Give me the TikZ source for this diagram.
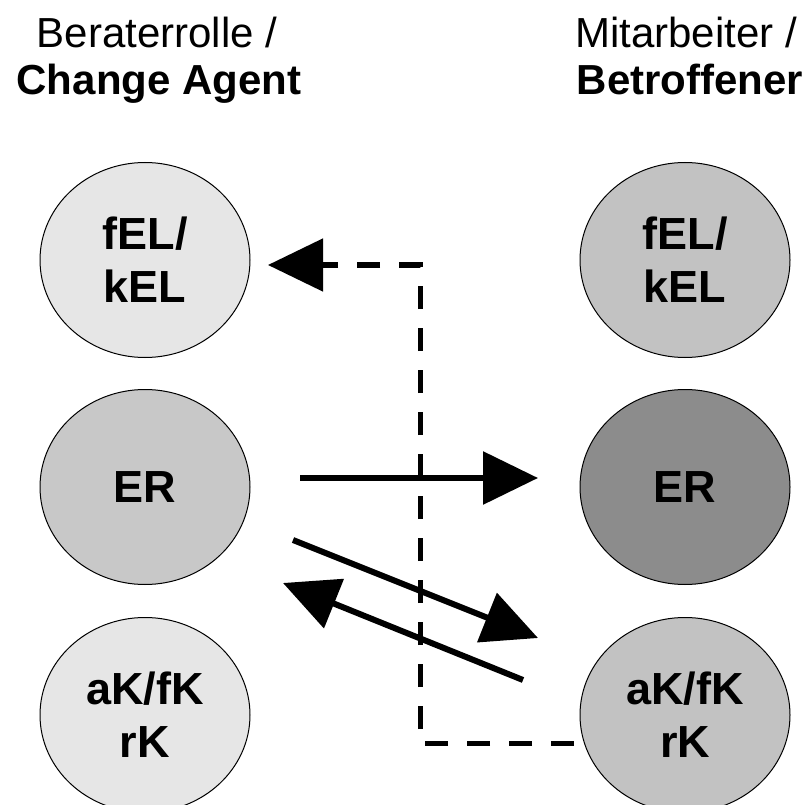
\documentclass[tikz,border=0pt]{standalone}
\usepackage{fontspec}
\setmainfont{Liberation Sans}
\usetikzlibrary{shapes.geometric,arrows.meta}
\definecolor{lightg}{HTML}{E6E6E6}
\definecolor{midg}{HTML}{C8C8C8}
\definecolor{rightg}{HTML}{C2C2C2}
\definecolor{darkg}{HTML}{8C8C8C}
\begin{document}
\begin{tikzpicture}[x=1pt,y=-1pt,
  role/.style={ellipse, draw=black, line width=1pt, minimum width=210pt, minimum height=195pt, inner sep=0pt, align=center, font=\fontsize{45}{53}\selectfont\bfseries},
  title/.style={anchor=base, font=\fontsize{42}{50}\selectfont},
  bigtip/.style={-{Triangle[length=55pt,width=52pt]}},
  solidarrow/.style={bigtip, line width=6pt},
  dasharrow/.style={bigtip, line width=5pt, dash pattern=on 23pt off 19pt}]
\useasboundingbox (0,0) rectangle (806,805);
\node[title] (t1) at (157,48) {Beraterrolle /};
\node[title] (t2) at (159,95) {\bfseries Change Agent};
\node[title] (t3) at (686,48) {Mitarbeiter /};
\node[title] (t4) at (690,95) {\bfseries Betroffener};
\node[role, fill=lightg] (L1) at (145,260) {fEL/\\kEL};
\node[role, fill=midg] (L2) at (145,487) {ER};
\node[role, fill=lightg] (L3) at (145,715) {aK/fK\\rK};
\node[role, fill=rightg] (R1) at (685,260) {fEL/\\kEL};
\node[role, fill=darkg] (R2) at (685,487) {ER};
\node[role, fill=rightg] (R3) at (685,715) {aK/fK\\rK};
\coordinate (h1) at (300,478);
\coordinate (h2) at (538,478);
\coordinate (d1) at (293,540);
\coordinate (d2) at (538,638);
\coordinate (e1) at (523,680);
\coordinate (e2) at (283,583);
\coordinate (s1) at (574,743);
\coordinate (s2) at (420,743);
\coordinate (s3) at (420,265);
\coordinate (s4) at (268,265);
\draw[solidarrow] (h1) -- (h2);
\draw[solidarrow] (d1) -- (d2);
\draw[solidarrow] (e1) -- (e2);
\draw[dasharrow] (s1) -- (s2) -- (s3) -- (s4);
\end{tikzpicture}
\end{document}
